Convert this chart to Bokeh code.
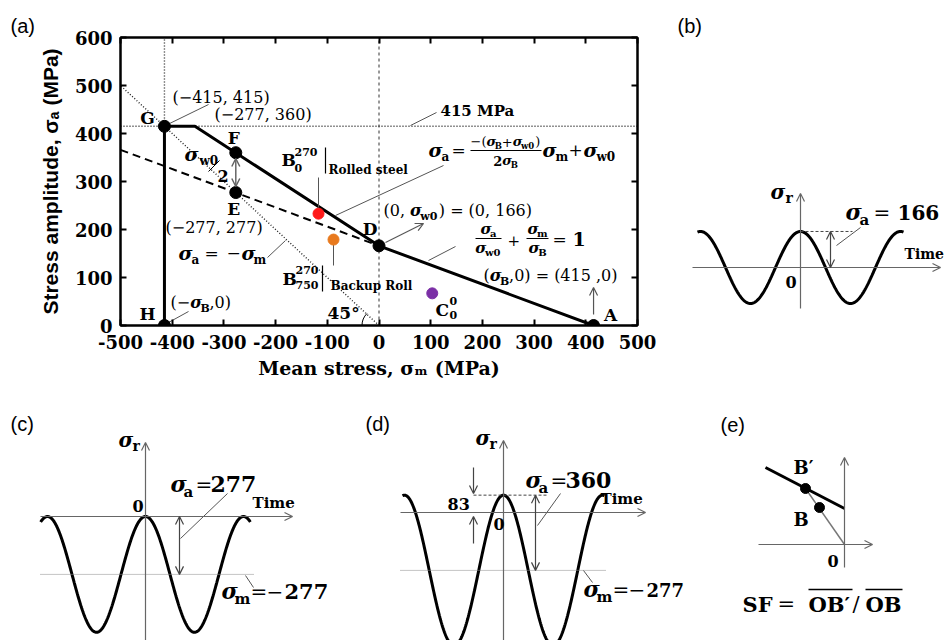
import numpy as np
from bokeh.plotting import figure
from bokeh.models import Range1d, Label, Arrow, OpenHead, LinearAxis, FixedTicker
from bokeh.layouts import row, column
from bokeh.embed import file_html
from bokeh.resources import INLINE

SERIF = "DejaVu Serif"
SANS = "Liberation Sans"
GRAY = "#555555"

# ---------------- data : panel (a) Haigh diagram ----------------
sigma_B = 415
sigma_w0 = 166
point_names = ["G", "F", "E", "D", "A", "H"]
point_x = [-415, -277, -277, 0, 415, -415]
point_y = [415, 360, 277, 166, 0, 0]
envelope_x = [-415, -415, -356, 0, 415]
envelope_y = [0, 415, 415, 166, 0]
modified_x = [-500, 0]
modified_y = [366, 166]
diag_x = [-520, 0]
diag_y = [520, 0]
steel_x = [-117, -88, 103]
steel_y = [233, 179, 67]
steel_colors = ["#ff1a1a", "#e8791d", "#7b2fa6"]
x_ticks = [-500, -400, -300, -200, -100, 0, 100, 200, 300, 400, 500]
y_ticks = [0, 100, 200, 300, 400, 500, 600]

# ---------------- data : panels (b)(c)(d) waveforms ----------------
wave_amp = [166, 277, 360]
wave_mean = [0, -277, -277]

# ---------------- data : panel (e) schematic ----------------
e_line_x = [-79, 0]
e_line_y = [77, 36]
e_pts_x = [-39, -25]
e_pts_y = [56, 37]

# ---------------- text width tables (em) ----------------
WB = {c: 0.696 for c in "0123456789"}
WB.update({" ": 0.348, "(": 0.473, ")": 0.473, ",": 0.38, ".": 0.38, "=": 0.838, "+": 0.838,
           "−": 0.838, "-": 0.415, "/": 0.365, "a": 0.648, "m": 1.058, "w": 0.983, "B": 0.824,
           "r": 0.554})
WR = {c: 0.636 for c in "0123456789"}
WR.update({" ": 0.318, "(": 0.39, ")": 0.39, ",": 0.318, "=": 0.838, "+": 0.838, "−": 0.838})


def tw(s, size, style):
    if "italic" in style:
        return 0.64 * size * len(s)
    table = WB if "bold" in style else WR
    return sum(table.get(c, 0.65) for c in s) * size


class Pane:
    def __init__(self, fig, xr, yr, fx, fy, fw, fh):
        self.f = fig
        self.xr, self.yr = xr, yr
        self.fx, self.fy, self.fw, self.fh = fx, fy, fw, fh

    def X(self, px):
        return self.xr[0] + (px - self.fx) / self.fw * (self.xr[1] - self.xr[0])

    def Y(self, py):
        return self.yr[1] - (py - self.fy) / self.fh * (self.yr[1] - self.yr[0])

    def px(self, x):
        return self.fx + (x - self.xr[0]) / (self.xr[1] - self.xr[0]) * self.fw

    def py(self, y):
        return self.fy + (self.yr[1] - y) / (self.yr[1] - self.yr[0]) * self.fh

    def text(self, s, px, py, size, style="bold", font=SERIF, align="left", color="black"):
        py = py - 0.3 * size  # baseline correction
        self.f.add_layout(Label(x=self.X(px), y=self.Y(py), text=s, text_font=font,
                                text_font_size=f"{size}px", text_font_style=style,
                                text_color=color, text_align=align,
                                text_baseline="alphabetic"))

    def chain(self, parts, px, py, align="left"):
        widths = [tw(t, sz, st) for (t, sz, st, dy) in parts]
        x = px - sum(widths) / 2 if align == "center" else px
        for (t, sz, st, dy), w in zip(parts, widths):
            self.text(t, x, py + dy, sz, style=st)
            x += w

    def seg(self, p0, p1, color=GRAY, width=1.0, dash="solid"):
        self.f.segment(x0=[self.X(p0[0])], y0=[self.Y(p0[1])], x1=[self.X(p1[0])], y1=[self.Y(p1[1])],
                       line_color=color, line_width=width, line_dash=dash)

    def arrow(self, x0, y0, x1, y1, both=False, color=GRAY, width=1.2, size=8):
        self.f.add_layout(Arrow(x_start=x0, y_start=y0, x_end=x1, y_end=y1,
                                line_color=color, line_width=width,
                                end=OpenHead(size=size, line_color=color, line_width=width),
                                start=OpenHead(size=size, line_color=color, line_width=width) if both else None))


BI = "bold italic"
B = "bold"
R = "normal"
TOP_H = 396
BOT_H = 244

# ====================== panel (a) ======================
fa = figure(width=660, height=TOP_H, x_range=Range1d(-500, 500), y_range=Range1d(0, 600),
            output_backend="svg", toolbar_location=None, title="(a)",
            min_border_left=120, min_border_right=23, min_border_top=37, min_border_bottom=TOP_H - 325)
fa.grid.visible = False
fa.outline_line_color = "black"
fa.outline_line_width = 2
fa.title.text_font = SANS
fa.title.text_font_size = "20px"
fa.title.text_font_style = "normal"
fa.title.text_color = "black"
fa.title.offset = -110
fa.title.standoff = 2
A = Pane(fa, (-500, 500), (0, 600), 120, 37, 517, 288)

for axis, ticks in ((fa.xaxis[0], x_ticks), (fa.yaxis[0], y_ticks)):
    axis.ticker = FixedTicker(ticks=ticks)
    axis.major_label_overrides = {t: str(t) for t in ticks}
    axis.major_tick_in = 6
    axis.major_tick_out = 0
    axis.minor_tick_line_color = None
    axis.axis_line_width = 2
    axis.major_tick_line_width = 2
    axis.major_label_text_font = SERIF
    axis.major_label_text_font_size = "18px"
    axis.major_label_text_font_style = "bold"
    axis.major_label_text_color = "black"
fa.xaxis.major_label_standoff = 9
fa.yaxis.major_label_standoff = 8
fa.xaxis.axis_label = "Mean stress, σₘ (MPa)"
fa.xaxis.axis_label_text_font = SERIF
fa.xaxis.axis_label_text_font_size = "19px"
fa.xaxis.axis_label_text_font_style = "bold"
fa.xaxis.axis_label_text_color = "black"
fa.xaxis.axis_label_standoff = 5
fa.yaxis.axis_label = "Stress amplitude, σₐ (MPa)"
fa.yaxis.axis_label_text_font = SANS
fa.yaxis.axis_label_text_font_size = "21px"
fa.yaxis.axis_label_text_font_style = "bold"
fa.yaxis.axis_label_text_color = "black"
fa.yaxis.axis_label_standoff = 10
for loc, ticks in (("above", x_ticks), ("right", y_ticks)):
    ax2 = LinearAxis(ticker=FixedTicker(ticks=ticks), major_tick_in=6, major_tick_out=0,
                     minor_tick_line_color=None, axis_line_width=2, major_tick_line_width=2,
                     major_label_text_color=None, major_label_text_font_size="1px",
                     major_label_standoff=0)
    fa.add_layout(ax2, loc)

# reference lines
fa.line([-415, -415], [0, 600], line_color="#222222", line_width=1.4, line_dash="1 2")
fa.line([-500, 500], [415, 415], line_color="#222222", line_width=1.4, line_dash="1 2")
fa.line([0, 0], [0, 600], line_color="#333333", line_width=1, line_dash="3 3")
fa.line(diag_x, diag_y, line_color="#222222", line_width=1.4, line_dash="1 2")
fa.line(modified_x, modified_y, line_color="black", line_width=2, line_dash="8 5")
fa.line(envelope_x, envelope_y, line_color="black", line_width=3)
fa.arc(x=[0], y=[0], radius=17, radius_units="screen", start_angle=np.pi * 0.75, end_angle=np.pi,
       line_color="black", line_width=1)

# leaders
A.seg((165, 125), (208, 104))
A.seg((410, 125), (436, 112))
A.seg((443, 165), (335, 215))
A.seg((428, 260), (455, 246))
A.seg((267, 257), (285, 240))
A.seg((168, 322), (188, 311))
A.seg((318, 177), (318, 207))
A.seg((333, 243), (333, 265))
A.seg((325, 147), (325, 173), color="black", width=1.2)
A.seg((322, 265), (322, 291), color="black", width=1.2)
A.seg((208, 171), (219, 160), color="black", width=1)
A.seg((470, 150), (541, 150), color="black", width=1)
A.seg((475, 238), (501, 238), color="black", width=1)
A.seg((526, 238), (548, 238), color="black", width=1)

A.arrow(-277, A.Y(158), -277, A.Y(186), both=True, color="#666666", width=1.5)
A.arrow(A.X(385), A.Y(242), A.X(423), A.Y(223))
A.arrow(415, A.Y(314), 415, A.Y(287))

fa.scatter(point_x, point_y, size=12, color="black")
fa.scatter(steel_x, steel_y, size=11, color=steel_colors)

# point letters
letter_off = {"G": (-17, -3), "F": (-2, -10), "E": (-2, 22), "D": (-9, -12), "A": (17, -5), "H": (-17, -6)}
for n, x, y in zip(point_names, point_x, point_y):
    ox, oy = letter_off[n]
    A.text(n, A.px(x) + ox, A.py(y) + oy, 17, align="center")

A.text("(−415, 415)", 172, 102, 16, style=R)
A.text("(−277, 360)", 214, 119, 16, style=R)
A.text("(−277, 277)", 165, 232, 16, style=R)
A.chain([("(−", 16, R, 0), ("σ", 16, BI, 0), ("B", 11, B, 4), (" ,0)", 16, R, 0)], 170, 307)
A.chain([("(0, ", 16, R, 0), ("σ", 16, BI, 0), ("w0", 11, B, 4), (") = (0, 166)", 16, R, 0)], 383, 215)
A.chain([("(", 16, R, 0), ("σ", 16, BI, 0), ("B", 11, B, 4), (" ,0) = (415 ,0)", 16, R, 0)], 483, 280)

A.text("σ", 184, 159, 19, style=BI)
A.text("w0", 199, 164, 12)
A.text("2", 217, 180, 16)

A.text("σ", 178, 258, 19, style=BI)
A.text("a", 191, 263, 12)
A.text("=", 204, 258, 17, style=R)
A.text("−", 226, 258, 17, style=R)
A.text("σ", 241, 258, 19, style=BI)
A.text("m", 253, 263, 12)

A.text("45°", 327, 318, 17)

A.text("B", 281, 165, 17)
A.text("270", 294, 155, 11)
A.text("0", 294, 171, 11)
A.text("Rolled steel", 328, 173, 12)
A.text("B", 282, 284, 17)
A.text("270", 295, 273, 11)
A.text("750", 295, 288, 11)
A.text("Backup Roll", 330, 289, 12)

A.text("415 MPa", 440, 115, 15)

A.text("σ", 428, 155, 19, style=BI)
A.text("a", 441, 160, 12)
A.text("=", 451, 155, 17, style=R)
A.chain([("−(", 13, R, 0), ("σ", 13, BI, 0), ("B", 8.5, B, 3), ("+", 13, R, 0), ("σ", 13, BI, 0),
         ("w0", 8.5, B, 3), (")", 13, R, 0)], 470, 145)
A.chain([("2", 13, B, 0), ("σ", 13, BI, 0), ("B", 8.5, B, 3)], 505, 164, align="center")
A.text("σ", 542, 155, 19, style=BI)
A.text("m", 555, 160, 12)
A.text("+", 568, 155, 17, style=R)
A.text("σ", 583, 155, 19, style=BI)
A.text("w0", 596, 160, 12)

A.chain([("σ", 15, BI, 0), ("a", 10, B, 3)], 488, 233, align="center")
A.chain([("σ", 15, BI, 0), ("w0", 10, B, 3)], 488, 252, align="center")
A.text("+", 507, 244, 15, style=R)
A.chain([("σ", 15, BI, 0), ("m", 10, B, 3)], 537, 233, align="center")
A.chain([("σ", 15, BI, 0), ("B", 10, B, 3)], 537, 252, align="center")
A.text("=", 552, 244, 17, style=R)
A.text("1", 572, 244, 19)

A.text("C", 435, 315, 17)
A.text("0", 449, 304, 11)
A.text("0", 449, 318, 11)


# ====================== helper for schematic panels ======================
def blank(x0, y0, w, h, ox, oy, sx, sy, top=0, bottom=0, title=""):
    fy, fh = y0 + top, h - top - bottom
    xr = ((x0 - ox) / sx, (x0 + w - ox) / sx)
    yr = ((oy - (fy + fh)) / sy, (oy - fy) / sy)
    f = figure(width=w, height=h, x_range=Range1d(*xr), y_range=Range1d(*yr), title=title,
               x_axis_type=None, y_axis_type=None, output_backend="svg",
               toolbar_location=None, min_border=0, min_border_top=top, min_border_bottom=bottom,
               outline_line_color=None)
    return Pane(f, xr, yr, x0, fy, w, fh)


def wave(P, amp, mean, span):
    t = np.linspace(-span, span, 400)
    P.f.line(t, mean + amp * np.cos(2 * np.pi * t), line_color="black", line_width=3)


AX = "#666666"

# ====================== panel (b) ======================
Pb = blank(660, 0, 286, TOP_H, 800, 267, 100, 0.217, top=37, bottom=TOP_H - 325, title="(b)")
Pb.f.title.text_font = SANS
Pb.f.title.text_font_size = "20px"
Pb.f.title.text_font_style = "normal"
Pb.f.title.text_color = "black"
Pb.f.title.offset = 17
Pb.f.title.standoff = 2
wave(Pb, wave_amp[0], wave_mean[0], 1.03)
Pb.arrow(Pb.X(692), 0, Pb.X(940), 0, color=AX)
Pb.arrow(0, Pb.Y(308), 0, Pb.Y(193), color=AX)
Pb.f.line([0, Pb.X(852)], [wave_amp[0], wave_amp[0]], line_color="#444444", line_width=1, line_dash="3 2")
Pb.arrow(Pb.X(830), wave_amp[0], Pb.X(830), 0, both=True, color="#444444")
Pb.seg((836, 245), (860, 227))
Pb.text("σ", 770, 197, 20, style=BI)
Pb.text("r", 785, 202, 14)
Pb.text("σ", 845, 218, 22, style=BI)
Pb.text("a", 859, 224, 15)
Pb.text("=", 873, 218, 20, style=R)
Pb.text("166", 897, 218, 20)
Pb.text("Time", 904, 258, 14)
Pb.text("0", 785, 286, 16)

# ====================== panel (c) ======================
Pc = blank(0, TOP_H, 348, BOT_H, 145, 516, 98, 0.209)
wave(Pc, wave_amp[1], wave_mean[1], 1.07)
Pc.arrow(Pc.X(40), 0, Pc.X(292), 0, color=AX)
Pc.arrow(0, Pc.Y(640), 0, Pc.Y(442), color=AX)
Pc.f.line([Pc.X(40), Pc.X(253)], [wave_mean[1], wave_mean[1]], line_color="#888888", line_width=1, line_dash="1 1")
Pc.arrow(Pc.X(179), 0, Pc.X(179), wave_mean[1], both=True, color="#444444")
Pc.seg((180, 538), (227, 493))
Pc.seg((245, 575), (253, 587))
Pc.text("(c)", 10, 429, 20, style=R, font=SANS)
Pc.text("σ", 118, 445, 20, style=BI)
Pc.text("r", 132, 450, 14)
Pc.text("0", 132, 510, 16)
Pc.text("Time", 252, 507, 15)
Pc.text("σ", 170, 490, 22, style=BI)
Pc.text("a", 183, 496, 15)
Pc.text("=", 195, 490, 20, style=R)
Pc.text("277", 210, 490, 22)
Pc.text("σ", 221, 597, 22, style=BI)
Pc.text("m", 234, 603, 15)
Pc.text("=", 250, 597, 20, style=R)
Pc.text("−", 266, 597, 20, style=R)
Pc.text("277", 284, 597, 21)

# ====================== panel (d) ======================
Pd = blank(348, TOP_H, 340, BOT_H, 503, 512, 99, 0.209)
wave(Pd, wave_amp[2], wave_mean[2], 1.02)
peak_d = wave_mean[2] + wave_amp[2]
Pd.arrow(Pd.X(400), 0, Pd.X(645), 0, color=AX)
Pd.arrow(0, Pd.Y(640), 0, Pd.Y(440), color=AX)
Pd.f.line([Pd.X(473), Pd.X(548)], [peak_d, peak_d], line_color="#444444", line_width=1, line_dash="3 2")
Pd.f.line([Pd.X(400), Pd.X(605)], [wave_mean[2], wave_mean[2]], line_color="#888888", line_width=1, line_dash="1 1")
Pd.arrow(Pd.X(473), Pd.Y(467), Pd.X(473), Pd.Y(493), color="#444444")
Pd.arrow(Pd.X(473), Pd.Y(543), Pd.X(473), Pd.Y(516), color="#444444")
Pd.arrow(Pd.X(535), peak_d, Pd.X(535), wave_mean[2], both=True, color="#444444")
Pd.seg((537, 525), (560, 493))
Pd.seg((583, 570), (592, 582))
Pd.text("(d)", 365, 429, 20, style=R, font=SANS)
Pd.text("σ", 475, 443, 20, style=BI)
Pd.text("r", 489, 448, 14)
Pd.text("83", 447, 508, 16)
Pd.text("0", 493, 528, 16)
Pd.text("Time", 600, 503, 15)
Pd.text("σ", 525, 486, 22, style=BI)
Pd.text("a", 538, 492, 15)
Pd.text("=", 550, 486, 20, style=R)
Pd.text("360", 565, 486, 22)
Pd.text("σ", 583, 595, 22, style=BI)
Pd.text("m", 596, 601, 15)
Pd.text("=", 612, 595, 20, style=R)
Pd.text("−", 628, 595, 20, style=R)
Pd.text("277", 646, 595, 18)

# ====================== panel (e) ======================
Pe = blank(688, TOP_H, 258, BOT_H, 844, 544, 1, 1)
Pe.arrow(0, -23, 0, 87, color=AX)
Pe.arrow(-86, 0, 28, 0, color=AX)
Pe.f.line(e_line_x, e_line_y, line_color="black", line_width=3)
Pe.f.line([0, e_pts_x[0]], [0, e_pts_y[0]], line_color="#777777", line_width=1.5)
Pe.f.scatter(e_pts_x, e_pts_y, size=10, color="black")
Pe.text("(e)", 720, 430, 20, style=R, font=SANS)
Pe.text("B′", 793, 472, 18)
Pe.text("B", 793, 524, 18)
Pe.text("0", 827, 565, 16)
Pe.text("SF", 742, 610, 21)
Pe.text("=", 777, 610, 21, style=R)
Pe.text("OB′", 808, 610, 21)
Pe.text("/", 852, 610, 21, style=R)
Pe.text("OB", 865, 610, 21)
Pe.seg((808, 589), (852, 589), color="black", width=1.3)
Pe.seg((865, 589), (902, 589), color="black", width=1.3)

layout = column(row(fa, Pb.f), row(Pc.f, Pd.f, Pe.f))
open("out.html", "w").write(file_html(layout, INLINE))
